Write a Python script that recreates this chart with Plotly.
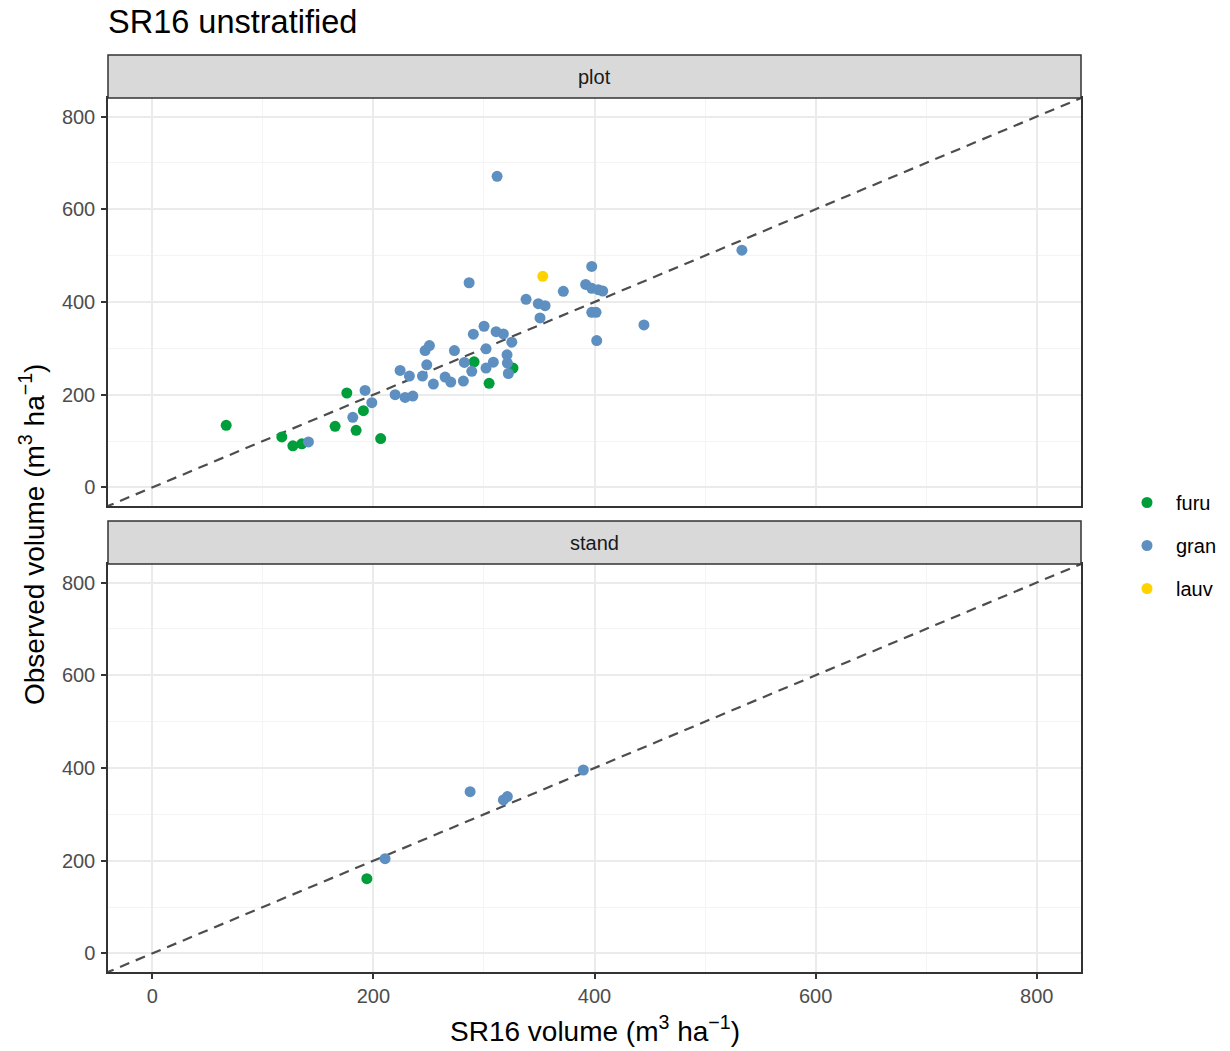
import plotly.graph_objects as go

# ---- data ----
furu_plot_x = [66.9, 117.2, 127.2, 135.3, 165.4, 176.0, 184.4, 191.0, 206.6, 291.1, 304.7, 326.3]
furu_plot_y = [134.0, 109.0, 89.7, 94.0, 131.8, 203.7, 123.2, 165.6, 105.4, 271.0, 224.7, 257.4]

gran_plot_x = [141.3, 181.4, 192.5, 198.6, 219.7, 224.2, 228.7, 232.6, 235.7, 244.4,
               246.8, 250.7, 248.3, 254.3, 264.9, 270.0, 273.3, 281.4, 282.3, 289.0,
               286.6, 290.4, 300.1, 301.9, 308.5, 301.9, 311.0, 317.6, 320.9, 321.2,
               322.1, 325.2, 311.9, 338.1, 349.2, 355.3, 350.7, 371.8, 392.0, 397.5,
               403.4, 407.4, 397.5, 397.5, 401.4, 402.0, 444.7, 533.3]
gran_plot_y = [98.3, 151.2, 209.2, 182.8, 200.0, 252.3, 194.2, 240.2, 197.2, 240.2,
               295.3, 306.0, 264.5, 223.0, 238.0, 227.3, 295.3, 229.5, 269.7, 250.5,
               441.5, 330.5, 347.7, 299.0, 270.3, 257.4, 336.1, 331.2, 286.0, 268.2,
               245.8, 313.3, 671.0, 405.8, 396.3, 392.0, 365.6, 423.0, 438.0, 429.5,
               426.5, 423.7, 476.8, 377.8, 377.8, 316.8, 350.5, 511.8]

lauv_plot_x = [353.2]
lauv_plot_y = [455.5]

furu_stand_x = [194.1]
furu_stand_y = [161.3]
gran_stand_x = [210.6, 287.5, 317.6, 321.2, 389.9]
gran_stand_y = [204.3, 349.0, 331.2, 338.3, 395.7]

species = ["furu", "gran", "lauv"]
panels = ["plot", "stand"]
tick_vals = [0, 200, 400, 600, 800]
axis_lims = [0, 800]
ref_line = [-100, 900]  # y = x identity line

colors = {"furu": "#009E3A", "gran": "#5E8FC1", "lauv": "#FFD300"}
FONT = "Liberation Sans, Arial, Helvetica, sans-serif"
W, H = 1230, 1051

fig = go.Figure()

pad = 0.05 * (axis_lims[1] - axis_lims[0])
rng = [axis_lims[0] - pad, axis_lims[1] + pad]

# panel pixel boxes
x0p, x1p = 108, 1081
top_box = (98, 506)
bot_box = (564, 972)
def ydom(b):
    return [(H - b[1]) / H, (H - b[0]) / H]

# identity lines
for ax in ["y", "y2"]:
    xa = "x" if ax == "y" else "x2"
    fig.add_trace(go.Scatter(x=ref_line, y=ref_line, mode="lines", xaxis=xa, yaxis=ax,
                             line=dict(color="#4D4D4D", width=2.2, dash="10px,7px"),
                             showlegend=False, hoverinfo="skip"))

data_top = {"furu": (furu_plot_x, furu_plot_y), "gran": (gran_plot_x, gran_plot_y),
            "lauv": (lauv_plot_x, lauv_plot_y)}
data_bot = {"furu": (furu_stand_x, furu_stand_y), "gran": (gran_stand_x, gran_stand_y)}

for sp in species:
    xs, ys = data_top[sp]
    fig.add_trace(go.Scatter(x=xs, y=ys, mode="markers", name=sp, xaxis="x", yaxis="y",
                             marker=dict(color=colors[sp], size=11),
                             legendgroup=sp, showlegend=True))
for sp, (xs, ys) in data_bot.items():
    fig.add_trace(go.Scatter(x=xs, y=ys, mode="markers", name=sp, xaxis="x2", yaxis="y2",
                             marker=dict(color=colors[sp], size=11),
                             legendgroup=sp, showlegend=False))

common = dict(range=rng, tickvals=tick_vals, showgrid=True, gridcolor="#EBEBEB", gridwidth=2,
              minor=dict(dtick=100, tick0=0, showgrid=True, gridcolor="#F4F4F4", gridwidth=1),
              showline=True, linecolor="#333333", linewidth=1.5, mirror=True,
              zeroline=False, ticks="outside", ticklen=5, tickwidth=1.5, tickcolor="#333333",
              tickfont=dict(family=FONT, size=20, color="#4D4D4D"))

xd = [x0p / W, x1p / W]
fig.update_layout(
    xaxis=dict(domain=xd, anchor="y", **{**common, "ticks": ""}, showticklabels=False),
    yaxis=dict(domain=ydom(top_box), anchor="x", ticklabelstandoff=2, **common),
    xaxis2=dict(domain=xd, anchor="y2", **common),
    yaxis2=dict(domain=ydom(bot_box), anchor="x2", ticklabelstandoff=2, **common),
)

# strips
strips = [("plot", (55, 98)), ("stand", (521, 564))]
for label, (t, b) in strips:
    fig.add_shape(type="rect", xref="paper", yref="paper", x0=xd[0], x1=xd[1],
                  y0=(H - b) / H, y1=(H - t) / H, fillcolor="#D9D9D9",
                  line=dict(color="#333333", width=1.5), layer="above")
    fig.add_annotation(text=label, xref="paper", yref="paper", x=(xd[0] + xd[1]) / 2,
                       y=(H - (t + b) / 2) / H, showarrow=False, xanchor="center", yanchor="middle",
                       font=dict(family=FONT, size=20, color="#1A1A1A"))

# title
fig.add_annotation(text="SR16 unstratified", xref="paper", yref="paper", x=106 / W, y=(H - 22) / H,
                   xanchor="left", yanchor="middle", showarrow=False,
                   font=dict(family=FONT, size=32.5, color="black"))
# axis titles
fig.add_annotation(text="SR16 volume (m<sup>3</sup> ha<sup>−1</sup>)", xref="paper", yref="paper",
                   x=(xd[0] + xd[1]) / 2, y=(H - 1029) / H, xanchor="center", yanchor="middle",
                   showarrow=False, font=dict(family=FONT, size=28, color="black"))
fig.add_annotation(text="Observed volume (m<sup>3</sup> ha<sup>−1</sup>)", xref="paper", yref="paper",
                   x=32 / W, y=(H - 535) / H, xanchor="center", yanchor="middle", textangle=-90,
                   showarrow=False, font=dict(family=FONT, size=28, color="black"))

fig.update_layout(
    width=W, height=H, margin=dict(l=0, r=0, t=0, b=0),
    plot_bgcolor="white", paper_bgcolor="white",
    legend=dict(x=1118 / W, y=(H - 483) / H, xanchor="left", yanchor="top",
                font=dict(family=FONT, size=20, color="black"), tracegroupgap=14,
                itemwidth=48, bgcolor="rgba(0,0,0,0)"),
    showlegend=True,
)

fig.write_html("out.html")
